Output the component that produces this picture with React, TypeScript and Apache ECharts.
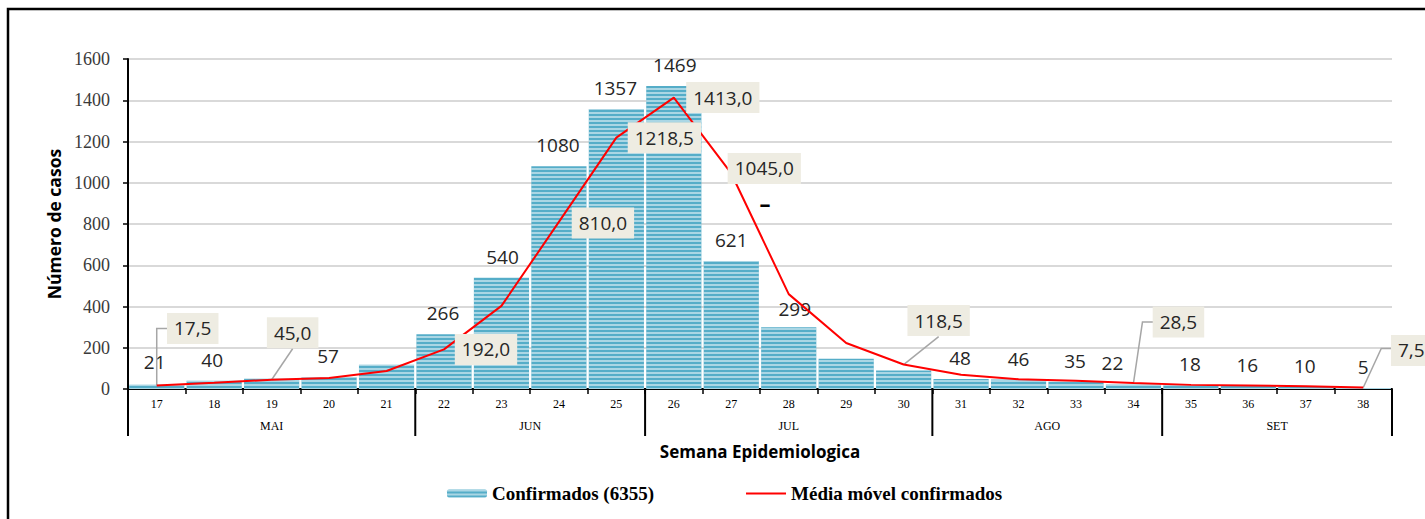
import React, { useEffect, useRef } from "react";
import * as echarts from "echarts";

// ---- data ----
const weeks = ["17", "18", "19", "20", "21", "22", "23", "24", "25", "26", "27", "28", "29", "30", "31", "32", "33", "34", "35", "36", "37", "38"];
const confirmed = [21, 40, 50, 57, 118, 266, 540, 1080, 1357, 1469, 621, 299, 147, 90, 48, 46, 35, 22, 18, 16, 10, 5];
const movingAvg = [17.5, 30.5, 45, 53.5, 87.5, 192, 403, 810, 1218.5, 1413, 1045, 460, 223, 118.5, 69, 47, 40.5, 28.5, 20, 17, 13, 7.5];
const months = ["MAI", "JUN", "JUL", "AGO", "SET"];
const monthWeekCounts = [5, 4, 5, 4, 4];
const yTicks = [0, 200, 400, 600, 800, 1000, 1200, 1400, 1600];
const totalConfirmed = 6355;

// ---- label styling (which labels show, and where) ----
const barLabelHidden = [2, 4, 12, 13];
const barLabelShift: Record<number, [number, number]> = {
  0: [-2, -2], 1: [-2, 0], 3: [-1, 0], 5: [-1, 0], 6: [1, 0], 7: [-1, 0], 8: [-1, 0], 9: [1, 0],
  11: [6, 3], 14: [-1, 0], 16: [-1, 0], 17: [-21, 0], 18: [-1, 0], 19: [-1, 0], 20: [-1, 0],
};
const maLabelOffsets: Record<number, [number, number]> = {
  0: [36, -57], 2: [21, -47], 5: [42, 0], 7: [44, 1], 8: [48, 0], 9: [49, 0], 10: [33, -5],
  13: [35, -44], 17: [45, -61], 21: [48, -37],
};
// leader lines, relative to the data point
const maLeaders: Record<number, [number, number][]> = {
  0: [[0, 0], [0, -57], [11, -57]],
  2: [[0, 0], [21, -31]],
  13: [[0, 0], [35, -28]],
  17: [[0, 0], [9, -61], [20, -61]],
  21: [[0, 0], [18, -39], [28, -39]],
};

const SANS = "'Open Sans', 'Noto Sans', sans-serif";
const SERIF = "'Liberation Serif', 'DejaVu Serif', serif";

export default function App() {
  const ref = useRef<HTMLDivElement>(null);
  useEffect(() => {
    if (!ref.current) return;
    const chart = echarts.init(ref.current, undefined, { renderer: "svg" });

    const barData = confirmed.map((v, i) => {
      const hidden = barLabelHidden.includes(i);
      const sh = barLabelShift[i] || [0, 0];
      return { value: v, label: { show: !hidden, offset: sh } };
    });
    const lineData = movingAvg.map((v, i) => {
      const off = maLabelOffsets[i];
      return off
        ? { value: v, label: { show: true, offset: off } }
        : { value: v, label: { show: false } };
    });

    chart.setOption({
      animation: false,
      grid: { left: 128, right: 33, top: 59, bottom: 130, containLabel: false },
      legend: {
        left: 442,
        top: 479,
        itemGap: 92,
        itemWidth: 40,
        itemHeight: 8,
        textStyle: { fontFamily: SERIF, fontWeight: "bold", fontSize: 19, color: "#000" },
        data: [
          { name: `Confirmados (${totalConfirmed})` },
          {
            name: "Média móvel confirmados",
            icon: "path://M0 0 H42 V2 H0 Z",
            itemStyle: { color: "#ff0000" },
          },
        ],
      },
      xAxis: {
        type: "category",
        data: weeks,
        axisLine: { lineStyle: { color: "#000", width: 2 } },
        axisTick: { show: true, length: 5, lineStyle: { color: "#000", width: 1.5 } },
        axisLabel: { fontFamily: SERIF, fontSize: 12, color: "#000", margin: 9 },
        name: "Semana Epidemiologica",
        nameLocation: "middle",
        nameGap: 54,
        nameTextStyle: { fontFamily: SANS, fontWeight: "bold", fontSize: 17, color: "#000" },
      },
      yAxis: {
        type: "value",
        min: yTicks[0],
        max: yTicks[yTicks.length - 1],
        interval: 200,
        axisLine: { show: true, lineStyle: { color: "#000", width: 2 } },
        axisTick: { show: true, length: 5, lineStyle: { color: "#000", width: 1.5 } },
        axisLabel: {
          fontFamily: SERIF,
          fontSize: 18,
          color: "#3a3a3a",
          margin: 18,
          formatter: (v: number) => String(v),
        },
        splitLine: { lineStyle: { color: "#d9d9d9", width: 2 } },
        name: "Número de casos",
        nameLocation: "middle",
        nameGap: 59,
        nameRotate: 90,
        nameTextStyle: { fontFamily: SANS, fontWeight: "bold", fontSize: 17.5, color: "#000" },
      },
      series: [
        {
          name: `Confirmados (${totalConfirmed})`,
          type: "bar",
          data: barData,
          barCategoryGap: "4%",
          itemStyle: {
            color: "#55adc8",
            decal: {
              symbol: "rect",
              symbolSize: 1,
              color: "rgba(255,255,255,0.5)",
              dashArrayX: [1, 0],
              dashArrayY: [2, 2],
              rotation: 0,
            },
          },
          label: {
            position: "top",
            distance: 11,
            fontFamily: SANS,
            fontSize: 19,
            lineHeight: 20,
            color: "#262626",
          },
          z: 2,
        },
        {
          name: "Média móvel confirmados",
          type: "line",
          data: lineData,
          symbol: "circle",
          symbolSize: 0.01,
          showSymbol: true,
          lineStyle: { color: "#ff0000", width: 2 },
          itemStyle: { color: "#ff0000" },
          label: {
            position: "inside",
            fontFamily: SANS,
            fontSize: 19,
            lineHeight: 21,
            color: "#262626",
            backgroundColor: "#eeece2",
            padding: [5, 7],
            formatter: (p: any) => Number(p.value).toFixed(1).replace(".", ","),
          },
          z: 5,
        },
      ],
    });

    // decorations computed from the axes
    const px = (i: number) => chart.convertToPixel({ xAxisIndex: 0 }, weeks[i]) as number;
    const py = (v: number) => chart.convertToPixel({ yAxisIndex: 0 }, v) as number;
    const catW = px(1) - px(0);
    const axisY = py(0);
    const graphics: any[] = [];
    let start = 0;
    months.forEach((m, k) => {
      const end = start + monthWeekCounts[k] - 1;
      const left = px(start) - catW / 2;
      graphics.push({
        type: "line",
        shape: { x1: left, y1: axisY, x2: left, y2: axisY + 47 },
        style: { stroke: "#000", lineWidth: 2 },
        z: 10,
      });
      graphics.push({
        type: "text",
        x: (px(start) + px(end)) / 2,
        y: axisY + 37,
        style: { text: m, fontFamily: SERIF, fontSize: 12, fill: "#000", align: "center", verticalAlign: "middle" },
        z: 10,
      });
      start = end + 1;
    });
    const rightEdge = px(weeks.length - 1) + catW / 2;
    graphics.push({
      type: "line",
      shape: { x1: rightEdge, y1: axisY, x2: rightEdge, y2: axisY + 47 },
      style: { stroke: "#000", lineWidth: 2 },
      z: 10,
    });
    Object.keys(maLeaders).forEach((key) => {
      const i = Number(key);
      const x0 = px(i);
      const y0 = py(movingAvg[i]);
      graphics.push({
        type: "polyline",
        shape: { points: maLeaders[i].map(([dx, dy]) => [x0 + dx, y0 + dy]) },
        style: { stroke: "#a6a6a6", lineWidth: 1.5, fill: "none" },
        z: 4,
      });
    });
    // stray dash mark present in the original
    graphics.push({
      type: "text",
      x: 765,
      y: 203,
      style: { text: "–", fontFamily: SANS, fontWeight: "bold", fontSize: 22, fill: "#000", align: "center", verticalAlign: "middle" },
      z: 10,
    });
    // outer frame
    graphics.push({
      type: "rect",
      shape: { x: 8, y: 9, width: 1440, height: 540 },
      style: { fill: "none", stroke: "#000", lineWidth: 2.5 },
      z: 20,
    });
    chart.setOption({ graphic: graphics });

    return () => chart.dispose();
  }, []);

  return (
    <div
      ref={ref}
      style={{ position: "fixed", left: 0, top: 0, width: 1425, height: 519, background: "#fff" }}
    />
  );
}
